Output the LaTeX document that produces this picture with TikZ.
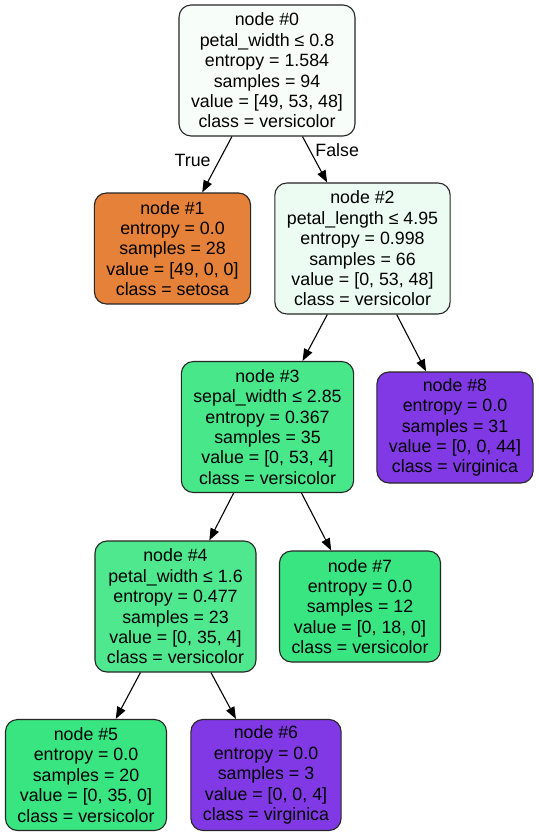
\documentclass[tikz,border=0pt]{standalone}
\usepackage{fontspec}
\setmainfont{Liberation Sans}
\usetikzlibrary{arrows.meta}
\definecolor{setosa}{HTML}{E58139}
\definecolor{versi}{HTML}{39E581}
\definecolor{virgin}{HTML}{8139E5}
\definecolor{rootpale}{HTML}{F7FEFA}
\definecolor{versipale}{HTML}{ECFCF3}
\definecolor{versimid}{HTML}{48E78A}
\definecolor{versilight}{HTML}{50E88F}
\newcommand{\treefont}{\fontsize{17.8bp}{20.4bp}\selectfont}
\tikzset{
  tnode/.style={draw=black!85,line width=1.1bp,rounded corners=12bp,align=center,inner xsep=12bp,inner ysep=0bp,font=\treefont},
  split/.style={tnode,minimum height=131bp},
  leafbox/.style={tnode,minimum height=111bp},
  branch/.style={line width=1.1bp,-{Triangle[length=12bp,width=9bp]}},
  elab/.style={font=\treefont,inner sep=2bp}
}
\begin{document}
\begin{tikzpicture}[x=1bp,y=-1bp]
  \useasboundingbox[fill=white] (0,0) rectangle (539,836);
  % tree nodes
  \node[split,fill=rootpale] (N0) at (267,70.5) {node \#0\\petal\_width ≤ 0.8\\entropy = 1.584\\samples = 94\\value = [49, 53, 48]\\class = versicolor};
  \node[leafbox,fill=setosa] (N1) at (172.5,248.5) {node \#1\\entropy = 0.0\\samples = 28\\value = [49, 0, 0]\\class = setosa};
  \node[split,fill=versipale] (N2) at (362.5,248.5) {node \#2\\petal\_length ≤ 4.95\\entropy = 0.998\\samples = 66\\value = [0, 53, 48]\\class = versicolor};
  \node[split,fill=versimid] (N3) at (267.5,427) {node \#3\\sepal\_width ≤ 2.85\\entropy = 0.367\\samples = 35\\value = [0, 53, 4]\\class = versicolor};
  \node[leafbox,fill=virgin] (N8) at (455,427.5) {node \#8\\entropy = 0.0\\samples = 31\\value = [0, 0, 44]\\class = virginica};
  \node[split,fill=versilight] (N4) at (175.5,606.5) {node \#4\\petal\_width ≤ 1.6\\entropy = 0.477\\samples = 23\\value = [0, 35, 4]\\class = versicolor};
  \node[leafbox,fill=versi] (N7) at (360,606.5) {node \#7\\entropy = 0.0\\samples = 12\\value = [0, 18, 0]\\class = versicolor};
  \node[leafbox,fill=versi] (N5) at (86,775) {node \#5\\entropy = 0.0\\samples = 20\\value = [0, 35, 0]\\class = versicolor};
  \node[leafbox,fill=virgin] (N6) at (266,775) {node \#6\\entropy = 0.0\\samples = 3\\value = [0, 0, 4]\\class = virginica};
  % branches
  \draw[branch] (N0) -- node[elab,pos=0.43,left=6bp] {True} (N1);
  \draw[branch] (N0) -- node[elab,pos=0.3,right=3bp] {False} (N2);
  \draw[branch] (N2) -- (N3);
  \draw[branch] (N2) -- (N8);
  \draw[branch] (N3) -- (N4);
  \draw[branch] (N3) -- (N7);
  \draw[branch] (N4) -- (N5);
  \draw[branch] (N4) -- (N6);
\end{tikzpicture}
\end{document}
